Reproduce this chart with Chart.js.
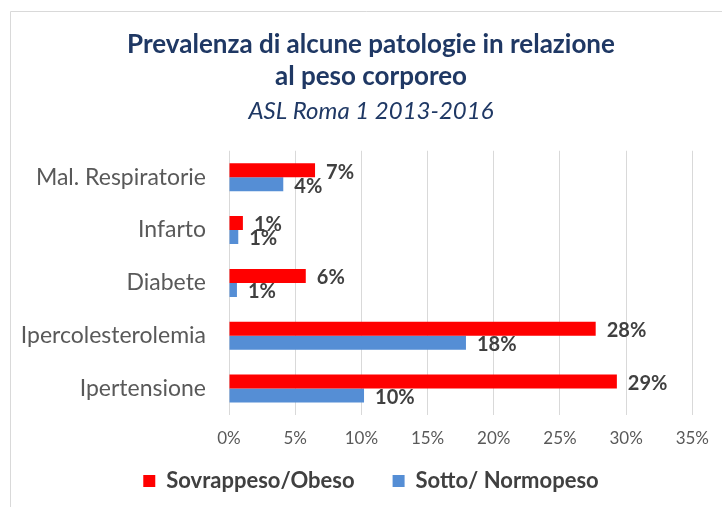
<!DOCTYPE html>
<html>
<head>
<meta charset="utf-8">
<script src="https://cdn.jsdelivr.net/npm/chart.js@4"></script>
<style>
  html, body { margin: 0; padding: 0; background: #fff; }
  #wrap { width: 722px; height: 507px; }
</style>
</head>
<body>
<div id="wrap"><canvas id="chart1" width="722" height="507"></canvas></div>
<script>
// dati
const categorie = ['Mal. Respiratorie', 'Infarto', 'Diabete', 'Ipercolesterolemia', 'Ipertensione'];
const sovrappeso = [6.5, 1.05, 5.8, 27.7, 29.3];
const normopeso = [4.1, 0.7, 0.6, 17.9, 10.2];
const tickX = [0, 5, 10, 15, 20, 25, 30, 35];

const FONT = 'Lato, "Open Sans", sans-serif';

// cornice grigia del riquadro
const cornice = {
  id: 'cornice',
  beforeDraw(chart) {
    const ctx = chart.ctx;
    ctx.save();
    ctx.strokeStyle = '#d9d9d9';
    ctx.lineWidth = 1;
    ctx.beginPath();
    ctx.moveTo(10.5, chart.height);
    ctx.lineTo(10.5, 11.5);
    ctx.lineTo(chart.width, 11.5);
    ctx.stroke();
    ctx.restore();
  }
};

// etichette valori a destra delle barre
const etichette = {
  id: 'etichette',
  afterDatasetsDraw(chart) {
    const ctx = chart.ctx;
    ctx.save();
    ctx.font = 'bold 20px ' + FONT;
    ctx.fillStyle = '#404040';
    ctx.textAlign = 'left';
    ctx.textBaseline = 'middle';
    chart.data.datasets.forEach((ds, i) => {
      const meta = chart.getDatasetMeta(i);
      meta.data.forEach((bar, j) => {
        ctx.fillText(Math.round(ds.data[j]) + '%', bar.x + 11, bar.y + 2);
      });
    });
    ctx.restore();
  }
};

// niente ritaglio delle etichette degli assi
function senzaClip(scale) {
  scale._computeLabelArea = () => undefined;
}

new Chart(document.getElementById('chart1'), {
  type: 'bar',
  data: {
    labels: categorie,
    datasets: [
      {
        label: 'Sovrappeso/Obeso',
        data: sovrappeso,
        backgroundColor: '#ff0000',
        categoryPercentage: 0.53,
        barPercentage: 1
      },
      {
        label: 'Sotto/ Normopeso',
        data: normopeso,
        backgroundColor: '#558ed5',
        categoryPercentage: 0.53,
        barPercentage: 1
      }
    ]
  },
  options: {
    indexAxis: 'y',
    responsive: false,
    animation: false,
    layout: { padding: { left: 48, right: 28, top: 20, bottom: 5 } },
    scales: {
      x: {
        min: 0,
        max: 35,
        afterBuildTicks(scale) {
          scale.ticks = tickX.map(v => ({ value: v }));
        },
        afterFit(scale) {
          scale.height = 17;
          senzaClip(scale);
        },
        ticks: {
          callback: v => v + '%',
          color: '#595959',
          font: { family: FONT, size: 17 },
          padding: 13
        },
        grid: { color: '#d9d9d9', drawTicks: false },
        border: { display: false }
      },
      y: {
        afterFit(scale) {
          scale.width = 181;
          senzaClip(scale);
        },
        ticks: {
          color: '#595959',
          font: { family: FONT, size: 23 },
          padding: 23
        },
        grid: { display: false, drawTicks: false },
        border: { display: false }
      }
    },
    plugins: {
      title: {
        display: true,
        text: ['Prevalenza di alcune patologie in relazione', 'al peso corporeo'],
        color: '#1f3864',
        font: { family: FONT, size: 26, weight: 'bold', lineHeight: 1.23 },
        padding: { top: 9, bottom: 4 }
      },
      subtitle: {
        display: true,
        text: 'ASL Roma 1 2013-2016',
        color: '#1f3864',
        font: { family: FONT, size: 24, style: 'italic' },
        padding: { bottom: 25 }
      },
      legend: {
        position: 'bottom',
        labels: {
          boxWidth: 12,
          boxHeight: 12,
          padding: 38,
          color: '#404040',
          font: { family: FONT, size: 22, weight: 'bold' }
        }
      },
      tooltip: { enabled: false }
    }
  },
  plugins: [cornice, etichette]
});
</script>
</body>
</html>
